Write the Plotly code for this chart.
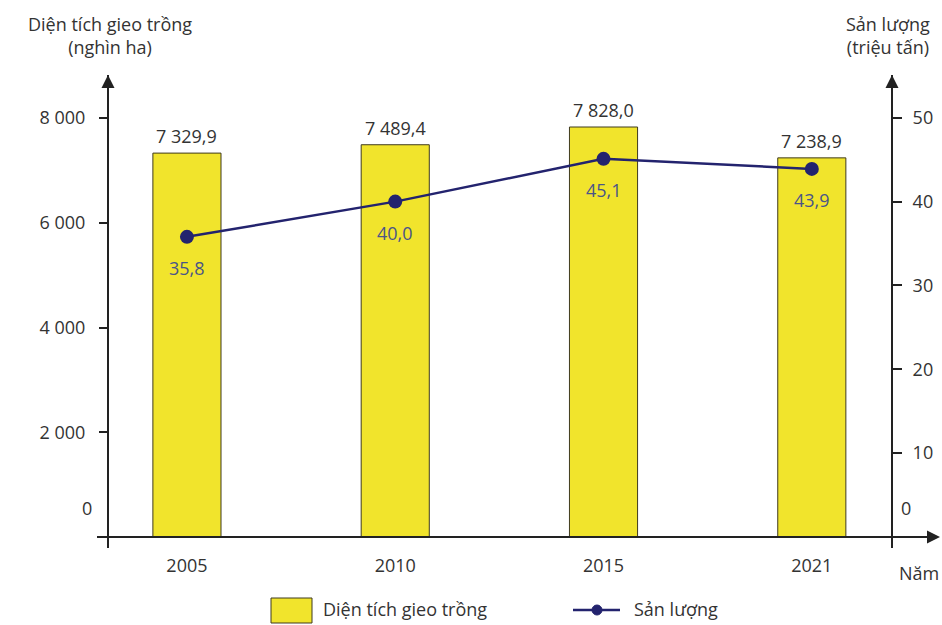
import plotly.graph_objects as go

years = ["2005", "2010", "2015", "2021"]
area = [7329.9, 7489.4, 7828.0, 7238.9]
area_labels = ["7 329,9", "7 489,4", "7 828,0", "7 238,9"]
output = [35.8, 40.0, 45.1, 43.9]
output_labels = ["35,8", "40,0", "45,1", "43,9"]
left_ticks = [2000, 4000, 6000, 8000]
left_ticktext = ["2 000", "4 000", "6 000", "8 000"]
right_ticks = [10, 20, 30, 40, 50]
right_ticktext = ["10", "20", "30", "40", "50"]

FONT = "Open Sans"
TXT = "#333333"
LINE_LBL = "#4a5488"
NAVY = "#23236e"
YELLOW = "#f1e42c"
FS = 18

# plot area in pixels
L, R, T, B = 108, 892, 75, 537
W, H = 942, 625
PW, PH = R - L, B - T


def px(x):
    return (x - L) / PW


def py(y):
    return (B - y) / PH


fig = go.Figure()
fig.add_trace(go.Bar(
    x=years, y=area, width=0.327, name="Diện tích gieo trồng", showlegend=False,
    marker=dict(color=YELLOW, line=dict(color="#3f3a1e", width=1)),
))
fig.add_trace(go.Scatter(
    x=years, y=output, yaxis="y2", name="Sản lượng", mode="lines+markers",
    showlegend=False,
    line=dict(color=NAVY, width=2.5),
    marker=dict(color=NAVY, size=14),
))
for i, (v, t) in enumerate(zip(area, area_labels)):
    fig.add_annotation(x=i, y=v, xref="x", yref="y", text=t, showarrow=False, yanchor="bottom",
                       yshift=3, font=dict(size=FS, color=TXT, family=FONT))
for i, (v, t) in enumerate(zip(output, output_labels)):
    fig.add_annotation(x=i, y=v, xref="x", yref="y2", text=t, showarrow=False,
                       yshift=-31, font=dict(size=FS, color=LINE_LBL, family=FONT))

fig.update_layout(
    width=W, height=H,
    margin=dict(l=L, r=W - R, t=T, b=H - B, autoexpand=False),
    paper_bgcolor="white", plot_bgcolor="white",
    font=dict(family=FONT, size=FS, color=TXT),
    showlegend=False,
    xaxis=dict(type="category", range=[-0.379, 3.385],
               showgrid=False, zeroline=False, showline=False, ticks="",
               ticklabelstandoff=16, tickfont=dict(size=FS, color=TXT), automargin=False),
    yaxis=dict(range=[0, 8821], tickvals=left_ticks, ticktext=left_ticktext,
               showgrid=False, zeroline=False, showline=False,
               ticks="outside", ticklen=8, tickcolor="#222", tickwidth=1.5,
               ticklabelstandoff=10, tickfont=dict(size=FS, color=TXT), automargin=False),
    yaxis2=dict(range=[0, 55.1], tickvals=right_ticks, ticktext=right_ticktext,
                overlaying="y", side="right", showgrid=False, zeroline=False,
                showline=False, ticks="outside", ticklen=9, tickcolor="#222",
                tickwidth=1.5, ticklabelstandoff=7, tickfont=dict(size=FS, color=TXT),
                automargin=False),
)

AX = dict(color="#222", width=2)
# axis lines
fig.add_shape(type="line", xref="paper", yref="paper", x0=0, x1=0, y0=py(548), y1=1.0, line=AX)
fig.add_shape(type="line", xref="paper", yref="paper", x0=1, x1=1, y0=py(548), y1=1.0, line=AX)
fig.add_shape(type="line", xref="paper", yref="paper", x0=px(97), x1=px(930), y0=0, y1=0, line=AX)
# arrowheads
for ax_x in [0, 1]:
    fig.add_annotation(xref="paper", yref="paper", x=ax_x, y=1.0, ax=0, ay=20,
                       showarrow=True, arrowhead=2, arrowsize=1.3, arrowwidth=2,
                       arrowcolor="#222", text="")
fig.add_annotation(xref="paper", yref="paper", x=px(940), y=0, ax=-20, ay=0,
                   showarrow=True, arrowhead=2, arrowsize=1.3, arrowwidth=2,
                   arrowcolor="#222", text="")
# zero labels
fig.add_annotation(xref="paper", yref="paper", x=px(80), y=py(522), text="0", showarrow=False,
                   font=dict(size=FS, color=TXT))
fig.add_annotation(xref="paper", yref="paper", x=px(913), y=py(522), text="0", showarrow=False,
                   font=dict(size=FS, color=TXT))
# axis titles
fig.add_annotation(xref="paper", yref="paper", x=px(110), y=py(35), text="Diện tích gieo trồng<br>(nghìn ha)",
                   showarrow=False, xanchor="center", yanchor="middle", font=dict(size=FS, color=TXT))
fig.add_annotation(xref="paper", yref="paper", x=px(888), y=py(35), text="Sản lượng<br>(triệu tấn)",
                   showarrow=False, xanchor="center", yanchor="middle", font=dict(size=FS, color=TXT))
fig.add_annotation(xref="paper", yref="paper", x=px(897), y=py(573), text="Năm",
                   showarrow=False, xanchor="left", yanchor="middle", font=dict(size=FS, color=TXT))

# legend
fig.add_shape(type="rect", xref="paper", yref="paper", x0=px(271), x1=px(312), y0=py(623), y1=py(598),
              fillcolor=YELLOW, line=dict(color="#3f3a1e", width=1))
fig.add_annotation(xref="paper", yref="paper", x=px(321), y=py(609), text="Diện tích gieo trồng",
                   showarrow=False, xanchor="left", yanchor="middle", font=dict(size=FS, color=TXT))
fig.add_shape(type="line", xref="paper", yref="paper", x0=px(573), x1=px(620), y0=py(610), y1=py(610),
              line=dict(color=NAVY, width=2.5))
fig.add_shape(type="circle", xref="paper", yref="paper", xsizemode="pixel", ysizemode="pixel",
              xanchor=px(597), yanchor=py(610), x0=-5, x1=5, y0=-5, y1=5,
              fillcolor=NAVY, line=dict(color=NAVY, width=1))
fig.add_annotation(xref="paper", yref="paper", x=px(632), y=py(609), text="Sản lượng",
                   showarrow=False, xanchor="left", yanchor="middle", font=dict(size=FS, color=TXT))

fig.write_html("out.html", config={"displayModeBar": False},
               post_script="document.body.style.margin='0px';")
